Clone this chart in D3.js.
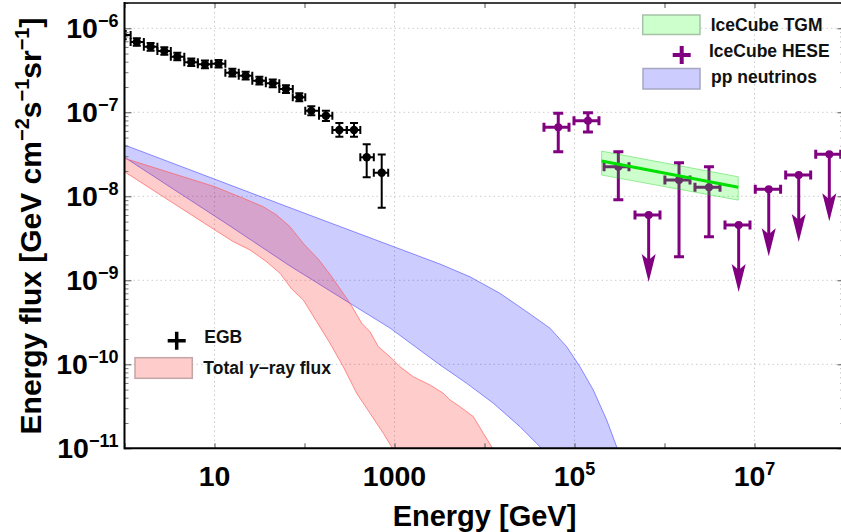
<!DOCTYPE html>
<html>
<head>
<meta charset="utf-8">
<script src="https://cdn.jsdelivr.net/npm/d3@7"></script>
<style>
  body { margin: 0; background: #fff; }
  svg { display: block; font-family: "Liberation Sans", Arial, sans-serif; font-weight: bold; }
</style>
</head>
<body>
<svg id="chart" width="841" height="532"></svg>
<script>
// ---- data ----
// Fermi EGB points (GeV, GeV cm^-2 s^-1 sr^-1)
var egbE    = [0.955, 1.37, 1.95, 2.77, 3.86, 5.52, 7.83, 11.1, 15.8, 22.2, 31.5, 44.4, 62.2, 87.5, 119, 173, 244, 355, 491, 721];
var egbEmin = [0.81, 1.17, 1.64, 2.32, 3.27, 4.62, 6.53, 9.23, 13.2, 18.6, 26.3, 37.2, 52.5, 74.1, 102, 145, 204, 295, 417, 589];
var egbEmax = [1.17, 1.64, 2.32, 3.27, 4.62, 6.53, 9.23, 13.2, 18.6, 26.3, 37.2, 52.5, 74.1, 102, 145, 204, 295, 417, 589, 851];
var egbF    = [8.3e-7, 6.87e-7, 6.04e-7, 5.37e-7, 4.59e-7, 3.94e-7, 3.72e-7, 3.79e-7, 2.96e-7, 2.73e-7, 2.38e-7, 2.21e-7, 1.89e-7, 1.51e-7, 1.04e-7, 9.1e-8, 6.15e-8, 6.15e-8, 2.91e-8, 1.91e-8];
var egbHi   = [9.3e-7, 7.6e-7, 6.7e-7, 5.95e-7, 5.1e-7, 4.38e-7, 4.13e-7, 4.2e-7, 3.3e-7, 3.04e-7, 2.65e-7, 2.46e-7, 2.1e-7, 1.69e-7, 1.18e-7, 1.04e-7, 7.45e-8, 7.45e-8, 4.16e-8, 3.15e-8];
var egbLo   = [7.4e-7, 6.2e-7, 5.4e-7, 4.85e-7, 4.15e-7, 3.55e-7, 3.35e-7, 3.42e-7, 2.66e-7, 2.46e-7, 2.14e-7, 1.98e-7, 1.7e-7, 1.35e-7, 9.2e-8, 7.9e-8, 5.1e-8, 5.1e-8, 1.68e-8, 7.3e-9];

// IceCube HESE (null hi/lo = upper limit)
var hesE    = [6.6e4, 1.41e5, 3.07e5, 6.67e5, 1.45e6, 3.12e6, 6.67e6, 1.44e7, 3.1e7, 6.78e7];
var hesEmin = [4.58e4, 9.87e4, 2.13e5, 4.7e5, 1.01e6, 2.18e6, 4.7e6, 1.02e7, 2.22e7, 4.79e7];
var hesEmax = [8.69e4, 1.87e5, 4.03e5, 8.91e5, 1.92e6, 4.14e6, 8.91e6, 1.95e7, 4.21e7, 9.08e7];
var hesF    = [6.62e-8, 7.94e-8, 2.25e-8, 5.98e-9, 1.56e-8, 1.28e-8, 4.55e-9, 1.21e-8, 1.79e-8, 3.16e-8];
var hesHi   = [9.73e-8, 9.89e-8, 3.4e-8, null, 2.51e-8, 2.25e-8, null, null, null, null];
var hesLo   = [3.4e-8, 5.82e-8, 9.12e-9, null, 1.91e-9, 3.3e-9, null, null, null, null];

// IceCube through-going muons band
var tgmE    = [2.0e5, 6.6e6];
var tgmBest = [2.63e-8, 1.28e-8];
var tgmUp   = [3.45e-8, 1.71e-8];
var tgmLow  = [1.79e-8, 9.0e-9];

// pp neutrino band edges
var ppUpE = [1, 89.1, 3206, 6902, 14860, 29440, 53460, 81850, 115100, 161800, 228000, 294400, 320600];
var ppUpF = [4.08e-8, 6.59e-9, 1.56e-9, 1.10e-9, 7.0e-10, 4.23e-10, 2.69e-10, 1.62e-10, 9.35e-11, 4.94e-11, 2.17e-11, 1.04e-11, 8.3e-12];
var ppLoE = [1, 14.86, 69.0, 320.6, 891, 3206, 6339, 12530, 24770, 41400, 46990];
var ppLoF = [2.91e-8, 4.43e-9, 1.48e-9, 5.32e-10, 2.70e-10, 9.82e-11, 5.94e-11, 3.44e-11, 1.81e-11, 1.04e-11, 8.3e-12];

// total gamma-ray band edges
var gamUpE = [1, 10.1, 20.9, 34.8, 49.1, 69.0, 97.0, 144.9, 202.3, 320.6, 432.5, 534.6, 660.7, 891.3, 1151, 1614, 2477, 3483, 4140, 5346, 7516, 9705, 12020, 12420];
var gamUpF = [2.83e-8, 1.30e-8, 9.46e-9, 7.52e-9, 5.98e-9, 4.35e-9, 2.75e-9, 1.75e-9, 1.09e-9, 5.32e-10, 3.08e-10, 2.44e-10, 1.62e-10, 1.23e-10, 9.35e-11, 7.11e-11, 5.68e-11, 4.52e-11, 3.76e-11, 3.13e-11, 2.38e-11, 1.51e-11, 1.04e-11, 8.3e-12];
var gamLoE = [1, 10.1, 16.2, 24.8, 38.0, 53.5, 72.1, 97.0, 136.8, 191.9, 269.8, 380.2, 534.6, 751.6, 931.1, 961.6];
var gamLoF = [1.96e-8, 3.97e-9, 2.88e-9, 2.30e-9, 1.66e-9, 1.21e-9, 7.87e-10, 5.82e-10, 3.21e-10, 1.78e-10, 9.35e-11, 4.52e-11, 2.61e-11, 1.51e-11, 1.03e-11, 8.3e-12];

// ticks
var xTickVals = [10, 1000, 1e5, 1e7];
var xTickBase = ["10", "1000", "10", "10"];
var xTickExp  = ["", "", "5", "7"];
var yTickVals = [1e-6, 1e-7, 1e-8, 1e-9, 1e-10, 1e-11];
var yTickExp  = ["\u22126", "\u22127", "\u22128", "\u22129", "\u221210", "\u221211"];

// ---- set up ----
var plot = {left: 124.5, right: 844.5, top: 3, bottom: 448.3};
var x = d3.scaleLog().domain([1, 1e8]).range([plot.left, plot.right]);
var y = d3.scaleLog().domain([1e-11, 2e-6]).range([plot.bottom, plot.top]);

var svg = d3.select('#chart');
svg.append('rect').attr('width', 841).attr('height', 532).attr('fill', '#fff');

svg.append('defs').append('clipPath').attr('id', 'clip')
  .append('rect')
  .attr('x', plot.left).attr('y', plot.top)
  .attr('width', plot.right - plot.left).attr('height', plot.bottom - plot.top);

// gridlines
var grid = svg.append('g').attr('stroke', '#cccccc').attr('stroke-width', 1).attr('stroke-dasharray', '1.5,3');
grid.selectAll('.gy').data(yTickVals.slice(0, 5)).enter().append('line')
  .attr('x1', plot.left).attr('x2', plot.right)
  .attr('y1', function(d) { return y(d); }).attr('y2', function(d) { return y(d); });
grid.selectAll('.gx').data(xTickVals).enter().append('line')
  .attr('y1', plot.top).attr('y2', plot.bottom)
  .attr('x1', function(d) { return x(d); }).attr('x2', function(d) { return x(d); });

var g = svg.append('g').attr('clip-path', 'url(#clip)');

// bands
function bandPts(upE, upF, loE, loF) {
  var pts = [];
  for (var i = 0; i < upE.length; i++) pts.push([upE[i], upF[i]]);
  for (var j = loE.length - 1; j >= 0; j--) pts.push([loE[j], loF[j]]);
  return pts;
}
var line = d3.line().x(function(d) { return x(d[0]); }).y(function(d) { return y(d[1]); });

g.append('path')
  .datum(bandPts(ppUpE, ppUpF, ppLoE, ppLoF))
  .attr('d', function(d) { return line(d) + 'Z'; })
  .attr('fill', 'rgba(0,0,255,0.2)')
  .attr('stroke', 'rgba(90,90,255,0.75)').attr('stroke-width', 0.9);

g.append('path')
  .datum(bandPts(gamUpE, gamUpF, gamLoE, gamLoF))
  .attr('d', function(d) { return line(d) + 'Z'; })
  .attr('fill', 'rgba(255,0,0,0.2)')
  .attr('stroke', 'rgba(255,90,90,0.75)').attr('stroke-width', 0.9);

// EGB points
var egb = g.append('g').attr('stroke', '#000').attr('stroke-width', 2).attr('fill', '#000');
egbE.forEach(function(e, i) {
  var cx = x(e), cy = y(egbF[i]);
  var x0 = x(egbEmin[i]), x1 = x(egbEmax[i]);
  var y0 = y(egbHi[i]), y1 = y(egbLo[i]);
  egb.append('line').attr('x1', x0).attr('x2', x1).attr('y1', cy).attr('y2', cy);
  egb.append('line').attr('x1', x0).attr('x2', x0).attr('y1', cy - 4).attr('y2', cy + 4);
  egb.append('line').attr('x1', x1).attr('x2', x1).attr('y1', cy - 4).attr('y2', cy + 4);
  egb.append('line').attr('x1', cx).attr('x2', cx).attr('y1', y0).attr('y2', y1);
  egb.append('line').attr('x1', cx - 4).attr('x2', cx + 4).attr('y1', y0).attr('y2', y0);
  egb.append('line').attr('x1', cx - 4).attr('x2', cx + 4).attr('y1', y1).attr('y2', y1);
  egb.append('circle').attr('cx', cx).attr('cy', cy).attr('r', 4.2).attr('stroke', 'none');
});

// IceCube HESE points
var purple = '#800080';
var hes = g.append('g').attr('stroke', purple).attr('stroke-width', 3).attr('fill', purple);
var arrowLen = 67;
hesE.forEach(function(e, i) {
  var cx = x(e), cy = y(hesF[i]);
  var x0 = x(hesEmin[i]), x1 = x(hesEmax[i]);
  hes.append('line').attr('x1', x0).attr('x2', x1).attr('y1', cy).attr('y2', cy);
  hes.append('line').attr('x1', x0).attr('x2', x0).attr('y1', cy - 4.5).attr('y2', cy + 4.5);
  hes.append('line').attr('x1', x1).attr('x2', x1).attr('y1', cy - 4.5).attr('y2', cy + 4.5);
  if (hesHi[i] !== null) {
    var y0 = y(hesHi[i]), y1 = y(hesLo[i]);
    hes.append('line').attr('x1', cx).attr('x2', cx).attr('y1', y0).attr('y2', y1);
    hes.append('line').attr('x1', cx - 5).attr('x2', cx + 5).attr('y1', y0).attr('y2', y0);
    hes.append('line').attr('x1', cx - 5).attr('x2', cx + 5).attr('y1', y1).attr('y2', y1);
  } else {
    var tip = cy + arrowLen;
    hes.append('line').attr('x1', cx).attr('x2', cx).attr('y1', cy).attr('y2', tip - 18);
    hes.append('path')
      .attr('stroke', 'none')
      .attr('d', 'M' + cx + ',' + tip + ' L' + (cx - 7) + ',' + (tip - 28) +
                 ' L' + cx + ',' + (tip - 22) + ' L' + (cx + 7) + ',' + (tip - 28) + 'Z');
  }
  hes.append('circle').attr('cx', cx).attr('cy', cy).attr('r', 4).attr('stroke', 'none');
});

// IceCube TGM band + best fit
var tgmPts = bandPts(tgmE, tgmUp, tgmE, tgmLow);
g.append('path')
  .datum(tgmPts)
  .attr('d', function(d) { return line(d) + 'Z'; })
  .attr('fill', 'rgba(0,255,0,0.2)')
  .attr('stroke', 'rgba(0,200,0,0.35)').attr('stroke-width', 1);
g.append('path')
  .datum(tgmE.map(function(e, i) { return [e, tgmBest[i]]; }))
  .attr('d', line)
  .attr('fill', 'none').attr('stroke', '#00e000').attr('stroke-width', 3);

// ---- axes ----
var decadesX = [1, 10, 100, 1e3, 1e4, 1e5, 1e6, 1e7, 1e8];
var minorY = [];
[-11, -10, -9, -8, -7, -6].forEach(function(p) {
  for (var k = 2; k <= 9; k++) { var v = k * Math.pow(10, p); if (v <= 2e-6) minorY.push(v); }
});

svg.append('g').attr('transform', 'translate(0,' + plot.bottom + ')')
  .call(d3.axisBottom(x).tickValues(decadesX).tickSize(-5).tickFormat(''))
  .call(function(a) { a.select('.domain').remove(); a.selectAll('line').attr('stroke', '#555'); });
svg.append('g').attr('transform', 'translate(0,' + plot.top + ')')
  .call(d3.axisTop(x).tickValues(decadesX).tickSize(-5).tickFormat(''))
  .call(function(a) { a.select('.domain').remove(); a.selectAll('line').attr('stroke', '#555'); });
svg.append('g').attr('transform', 'translate(' + plot.left + ',0)')
  .call(d3.axisLeft(y).tickValues(yTickVals).tickSize(-7).tickFormat(''))
  .call(function(a) { a.select('.domain').remove(); a.selectAll('line').attr('stroke', '#555'); });
svg.append('g').attr('transform', 'translate(' + plot.left + ',0)')
  .call(d3.axisLeft(y).tickValues(minorY).tickSize(-4).tickFormat(''))
  .call(function(a) { a.select('.domain').remove(); a.selectAll('line').attr('stroke', '#777'); });
svg.append('g').attr('transform', 'translate(' + plot.right + ',0)')
  .call(d3.axisRight(y).tickValues(yTickVals).tickSize(-7).tickFormat(''))
  .call(function(a) { a.select('.domain').remove(); a.selectAll('line').attr('stroke', '#555'); });
svg.append('g').attr('transform', 'translate(' + plot.right + ',0)')
  .call(d3.axisRight(y).tickValues(minorY).tickSize(-4).tickFormat(''))
  .call(function(a) { a.select('.domain').remove(); a.selectAll('line').attr('stroke', '#777'); });

// frame
var frame = svg.append('g').attr('stroke', '#000').attr('fill', 'none');
frame.append('line').attr('x1', plot.left).attr('x2', plot.right).attr('y1', plot.top).attr('y2', plot.top).attr('stroke-width', 1.5);
frame.append('line').attr('x1', plot.right).attr('x2', plot.right).attr('y1', plot.top).attr('y2', plot.bottom).attr('stroke-width', 1.5);
frame.append('line').attr('x1', plot.left).attr('x2', plot.right).attr('y1', plot.bottom).attr('y2', plot.bottom).attr('stroke-width', 2);
frame.append('line').attr('x1', plot.left).attr('x2', plot.left).attr('y1', plot.top - 1).attr('y2', plot.bottom + 1).attr('stroke-width', 2);

// tick labels
var xl = svg.append('g').attr('fill', '#000');
xTickVals.forEach(function(v, i) {
  var t = xl.append('text').attr('x', x(v)).attr('y', 486).attr('text-anchor', 'middle').attr('font-size', 28.5);
  t.append('tspan').text(xTickBase[i]);
  if (xTickExp[i]) t.append('tspan').attr('font-size', 18).attr('dy', -11.5).text(xTickExp[i]);
});
var yl = svg.append('g').attr('fill', '#000');
yTickVals.forEach(function(v, i) {
  var t = yl.append('text').attr('x', 118.5).attr('y', y(v) + 10).attr('text-anchor', 'end').attr('font-size', 28.5);
  t.append('tspan').text('10');
  t.append('tspan').attr('font-size', 18).attr('dy', -11.5).text(yTickExp[i]);
});

// axis titles
svg.append('text').attr('x', 484.5).attr('y', 525.5).attr('text-anchor', 'middle')
  .attr('font-size', 29).text('Energy [GeV]');
var yt = svg.append('text').attr('transform', 'translate(40.5,226) rotate(-90)')
  .attr('text-anchor', 'middle').attr('font-size', 30);
yt.append('tspan').text('Energy flux [GeV cm');
yt.append('tspan').attr('font-size', 20).attr('dy', -12).text('\u22122');
yt.append('tspan').attr('dy', 12).text('s');
yt.append('tspan').attr('font-size', 20).attr('dy', -12).text('\u22121');
yt.append('tspan').attr('dy', 12).text('sr');
yt.append('tspan').attr('font-size', 20).attr('dy', -12).text('\u22121');
yt.append('tspan').attr('dy', 12).text(']');

// ---- legends ----
var leg = svg.append('g').attr('font-size', 17.5).attr('fill', '#111');
leg.append('rect').attr('x', 642.7).attr('y', 15).attr('width', 57.3).attr('height', 19.5)
  .attr('fill', '#ccffcc').attr('stroke', '#a6c2a6').attr('stroke-width', 1.5);
leg.append('text').attr('x', 710.7).attr('y', 30.5).text('IceCube TGM');
leg.append('path').attr('d', 'M672.7,55 H690.7 M681.7,46 V64')
  .attr('stroke', purple).attr('stroke-width', 4).attr('fill', 'none');
leg.append('text').attr('x', 709).attr('y', 57).text('IceCube HESE');
leg.append('rect').attr('x', 643).attr('y', 68.5).attr('width', 57).attr('height', 20.5)
  .attr('fill', '#ccccff').attr('stroke', '#a6a6c2').attr('stroke-width', 1.5);
leg.append('text').attr('x', 711).attr('y', 83).text('pp neutrinos');

leg.append('path').attr('d', 'M167.7,340.7 H185.7 M176.7,331.7 V349.7')
  .attr('stroke', '#000').attr('stroke-width', 3.5).attr('fill', 'none');
leg.append('text').attr('x', 204.3).attr('y', 342.7).text('EGB');
leg.append('rect').attr('x', 135).attr('y', 357.7).attr('width', 57.3).attr('height', 20.6)
  .attr('fill', '#ffcccc').attr('stroke', '#c2a6a6').attr('stroke-width', 1.5);
var tl = leg.append('text').attr('x', 203.3).attr('y', 373.5);
tl.append('tspan').text('Total ');
tl.append('tspan').attr('font-style', 'italic').text('\u03b3');
tl.append('tspan').text('\u2212ray flux');
</script>
</body>
</html>
